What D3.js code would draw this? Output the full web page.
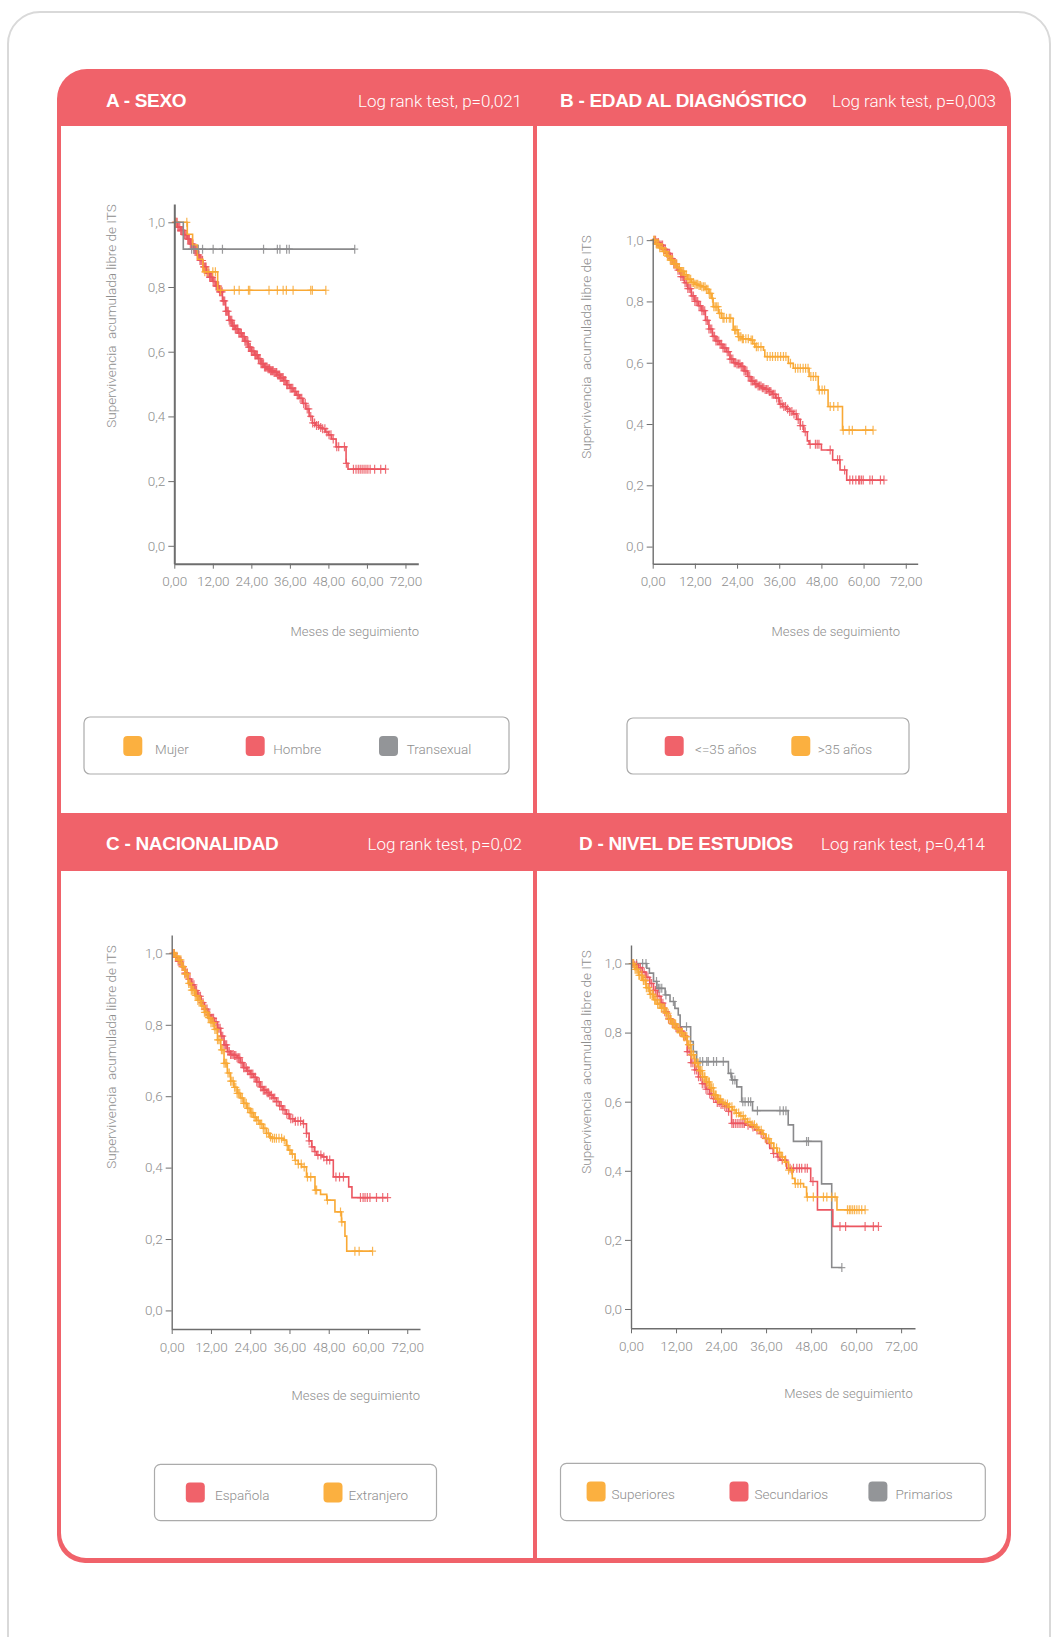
<!DOCTYPE html>
<html lang="es">
<head>
<meta charset="utf-8">
<script src="https://cdn.jsdelivr.net/npm/d3@7"></script>
<style>
  html, body { margin: 0; padding: 0; background: #ffffff; }
  svg { display: block; }
</style>
</head>
<body>
<script>
// ---------- Data: Kaplan-Meier curves [months, cumulative survival] ----------
const panelTitles = ["A - SEXO", "B - EDAD AL DIAGNÓSTICO", "C - NACIONALIDAD", "D - NIVEL DE ESTUDIOS"];
const panelTests = ["Log rank test, p=0,021", "Log rank test, p=0,003", "Log rank test, p=0,02", "Log rank test, p=0,414"];
const yTicks = [0, 0.2, 0.4, 0.6, 0.8, 1.0];
const xTicks = [0, 12, 24, 36, 48, 60, 72];
const yLabel = "Supervivencia  acumulada libre de ITS";
const xLabel = "Meses de seguimiento";

// A - Sexo
const sexoLabels = ["Mujer", "Hombre", "Transexual"];
const sexoMujer = [[0,1],[4.05,0.963],[5.7,0.93],[7.2,0.886],[8.9,0.847],[13.5,0.79],[47.2,0.79]];
const sexoMujerCens = [0.4,3.9,9.5,10.5,12.0,12.8,14.4,18.7,20.2,23.1,23.5,29.5,32.1,33.9,34.9,37.0,42.5,43.0,47.2];
const sexoHombre = [[0,1],[1,0.985],[2,0.975],[3,0.962],[4,0.948],[5,0.933],[6,0.916],[7,0.899],[8,0.882],[9,0.862],[10,0.843],[11,0.83],[12,0.817],[13,0.803],[14,0.785],[15,0.757],[16,0.725],[17,0.697],[18,0.68],[19,0.67],[20,0.657],[21,0.647],[22,0.632],[23,0.614],[24,0.601],[25,0.59],[26,0.579],[27,0.563],[28,0.553],[29,0.547],[30,0.541],[31,0.536],[32,0.528],[33,0.52],[34,0.511],[35,0.498],[36,0.487],[37,0.477],[38,0.466],[39,0.456],[40,0.44],[41,0.423],[42,0.4],[43,0.38],[44,0.372],[45,0.366],[46,0.362],[47,0.352],[48,0.343],[49,0.33],[50.4,0.306],[53.5,0.255],[54.1,0.237],[65.8,0.237]];
const sexoHombreCens = [0.3,0.6,0.9,1.1,1.4,1.7,2.0,2.2,2.5,2.8,3.1,3.3,3.6,3.9,4.2,4.4,4.7,5.0,5.3,5.5,5.8,6.1,6.4,6.6,6.9,7.2,7.5,7.7,8.0,8.3,8.6,8.8,9.1,9.4,9.7,9.9,10.2,10.5,10.8,11.0,11.3,11.6,11.9,12.1,12.4,12.7,13.0,13.2,13.5,13.8,14.1,14.3,14.6,14.9,15.2,15.4,15.7,16.0,16.3,16.5,16.8,17.1,17.4,17.6,17.9,18.2,18.5,18.7,19.0,19.3,19.6,19.8,20.1,20.4,20.7,20.9,21.2,21.5,21.8,22.0,22.3,22.6,22.9,23.1,23.4,23.7,24.0,24.2,24.5,24.8,25.1,25.3,25.6,25.9,26.2,26.4,26.7,27.0,27.3,27.5,27.8,28.1,28.4,28.6,28.9,29.2,29.5,29.7,30.0,30.3,30.6,30.8,31.1,31.4,31.7,31.9,32.2,32.5,32.8,33.0,33.3,33.6,33.9,34.1,34.4,34.7,35.0,35.3,35.7,36.1,36.5,36.9,37.4,37.8,38.3,38.7,39.2,39.7,40.3,40.8,41.4,41.9,42.5,43.1,43.7,44.3,44.9,45.6,46.2,46.9,47.5,48.2,48.8,49.5,50.6,51.2,53.0,53.6,55.8,56.6,57.3,57.9,58.5,59.1,59.7,60.3,61.0,62.4,64.3,65.8];
const sexoTrans = [[0,1],[2.8,0.917],[56.2,0.917]];
const sexoTransCens = [5.4,6.1,7.5,8.8,12.1,15.0,27.8,32.1,32.9,35.0,35.8,56.2];

// B - Edad al diagnóstico
const edadLabels = ["<=35 años", ">35 años"];
const edadJoven = [[0,1],[1,0.992],[2,0.984],[3,0.97],[4,0.957],[5,0.94],[6,0.922],[7,0.902],[8,0.881],[9,0.861],[10,0.842],[11,0.818],[12,0.8],[13,0.786],[14,0.77],[15,0.738],[16,0.71],[17,0.686],[18,0.671],[19,0.66],[20,0.648],[21,0.636],[22,0.612],[23,0.6],[24,0.596],[25,0.588],[26,0.573],[27,0.555],[28,0.54],[29,0.531],[30,0.524],[31,0.518],[32,0.513],[33,0.506],[34,0.497],[35,0.485],[36,0.465],[37,0.457],[38,0.449],[39,0.441],[40,0.433],[41,0.415],[42,0.395],[43,0.375],[44,0.345],[44.5,0.334],[48,0.315],[51.2,0.283],[53.3,0.25],[55.2,0.217],[65.8,0.217]];
const edadJovenCens = [0.4,0.8,1.2,1.6,2.0,2.4,2.8,3.2,3.6,4.0,4.4,4.8,5.2,5.6,6.0,6.4,6.8,7.2,7.6,8.0,8.4,8.8,9.2,9.6,10.0,10.4,10.8,11.2,11.6,12.0,12.4,12.8,13.2,13.6,14.0,14.4,14.8,15.2,15.6,16.0,16.4,16.8,17.2,17.6,18.0,18.4,18.8,19.2,19.6,20.0,20.4,20.8,21.2,21.6,22.0,22.4,22.8,23.2,23.6,24.0,24.4,24.8,25.2,25.6,26.0,26.4,26.8,27.2,27.6,28.0,28.4,28.8,29.2,29.6,30.0,30.4,30.8,31.2,31.6,32.0,32.4,32.8,33.2,33.6,34.0,34.4,34.8,35.3,35.8,36.3,36.8,37.3,37.8,38.4,39.0,39.6,40.2,40.8,41.4,42.0,42.7,43.4,44.8,46.3,46.8,47.3,50.5,52.6,53.2,54.6,56.1,56.9,57.8,58.6,58.9,59.4,59.9,61.8,62.5,64.8,65.8];
const edadMayor = [[0,1],[1,0.988],[2,0.975],[3,0.963],[4,0.948],[5,0.935],[6,0.922],[7,0.91],[8,0.898],[9,0.887],[10,0.872],[11,0.862],[12,0.856],[13,0.852],[14,0.848],[15,0.84],[16,0.826],[16.8,0.81],[17.2,0.783],[18.7,0.761],[19.6,0.745],[22.9,0.707],[24.3,0.685],[25.5,0.678],[27.7,0.674],[28.5,0.662],[29.1,0.652],[31.5,0.641],[31.9,0.62],[38.6,0.598],[40.0,0.582],[44.5,0.555],[47.1,0.511],[49.9,0.457],[54.0,0.38],[62.7,0.38]];
const edadMayorCens = [0.3,0.6,1.0,1.3,1.7,2.0,2.4,2.8,3.1,3.5,3.8,4.2,4.6,5.0,5.3,5.7,6.1,6.4,6.8,7.2,7.6,8.0,8.4,8.8,9.2,9.6,10.0,10.4,10.8,11.2,11.6,12.0,12.4,12.8,13.2,13.6,14.0,14.5,14.9,15.3,15.7,16.1,16.5,17.0,17.4,17.8,18.2,18.6,19.0,19.5,20.0,20.3,21.0,21.8,22.2,23.3,23.6,24.0,24.4,24.8,25.1,25.5,25.8,26.5,27.2,28.0,28.4,29.0,29.5,30.0,30.8,32.6,33.4,34.1,34.9,35.6,36.4,37.2,37.9,39.2,40.6,41.3,42.0,42.8,43.5,44.2,45.0,45.7,46.4,47.4,48.2,48.9,50.5,51.5,52.7,54.2,55.9,56.8,60.6,62.7];

// C - Nacionalidad
const nacLabels = ["Española", "Extranjero"];
const nacEspanola = [[0,1],[1,0.989],[2,0.978],[3,0.963],[4,0.945],[5,0.928],[6,0.912],[7,0.896],[8,0.88],[9,0.862],[10,0.844],[11,0.828],[12,0.818],[13,0.808],[14,0.79],[15,0.768],[16,0.744],[17,0.725],[18,0.717],[19,0.714],[20,0.708],[21,0.694],[22,0.68],[23,0.671],[24,0.662],[25,0.653],[26,0.64],[27,0.626],[28,0.617],[29,0.61],[30,0.603],[31,0.595],[32,0.585],[33,0.573],[34,0.562],[35,0.55],[36,0.537],[37.5,0.53],[40.2,0.523],[41.2,0.496],[42,0.475],[42.8,0.458],[43.6,0.445],[44.3,0.435],[46,0.43],[47.4,0.421],[49.4,0.374],[54.1,0.346],[55.1,0.316],[66.0,0.316]];
const nacEspanolaCens = [0.4,0.8,1.2,1.6,2.0,2.4,2.8,3.2,3.6,4.0,4.4,4.8,5.2,5.6,6.0,6.4,6.8,7.2,7.6,8.0,8.4,8.8,9.2,9.6,10.0,10.4,10.8,11.2,11.6,12.0,12.4,12.8,13.2,13.6,14.0,14.4,14.8,15.2,15.6,16.0,16.4,16.8,17.2,17.6,18.0,18.4,18.8,19.2,19.6,20.0,20.4,20.8,21.2,21.6,22.0,22.4,22.8,23.2,23.6,24.0,24.4,24.8,25.2,25.6,26.0,26.4,26.8,27.2,27.6,28.0,28.4,28.8,29.2,29.6,30.0,30.5,31.0,31.5,32.0,32.5,33.0,33.5,34.0,34.6,35.2,35.8,36.4,37.0,37.8,38.6,39.4,40.3,41.2,42.0,42.9,43.8,44.7,45.6,46.5,47.4,48.3,50.2,51.3,52.5,57.7,58.5,59.1,59.8,60.6,62.6,64.5,66.0];
const nacExtranjero = [[0,1],[1,0.992],[2,0.982],[3,0.963],[4,0.942],[5,0.916],[6,0.897],[7,0.882],[8,0.868],[9,0.853],[10,0.835],[11,0.82],[12,0.806],[13,0.787],[14,0.758],[15,0.73],[16,0.692],[17,0.665],[18,0.642],[19,0.625],[20,0.608],[21,0.595],[22,0.58],[23,0.566],[24,0.554],[25,0.541],[26,0.532],[27,0.522],[28,0.51],[29,0.496],[30,0.486],[30.5,0.482],[34.1,0.477],[35,0.462],[35.6,0.449],[36.5,0.438],[37.7,0.42],[38.7,0.41],[39.7,0.402],[41.2,0.374],[43.8,0.337],[45.5,0.325],[47.4,0.309],[49.9,0.276],[51.9,0.248],[52.96,0.208],[53.5,0.166],[61.4,0.166]];
const nacExtranjeroCens = [0.4,0.8,1.2,1.6,2.0,2.4,2.8,3.2,3.6,4.0,4.4,4.8,5.2,5.6,6.0,6.4,6.8,7.2,7.6,8.0,8.4,8.8,9.2,9.6,10.0,10.4,10.8,11.2,11.6,12.0,12.4,12.8,13.2,13.6,14.0,14.4,14.8,15.2,15.6,16.0,16.4,16.8,17.2,17.6,18.0,18.4,18.8,19.2,19.6,20.0,20.4,20.8,21.2,21.6,22.0,22.4,22.8,23.2,23.6,24.0,24.4,24.8,25.2,25.6,26.0,26.5,27.0,27.5,28.0,28.5,29.0,29.6,30.2,30.8,31.4,32.0,32.8,33.6,34.4,35.3,36.1,36.9,37.8,38.7,39.6,40.5,41.5,42.5,43.9,44.3,47.6,51.6,52.0,56.0,57.3,61.4];

// D - Nivel de estudios
const estLabels = ["Superiores", "Secundarios", "Primarios"];
const estSuperiores = [[0,1],[1,0.983],[2,0.966],[3,0.951],[4,0.93],[5,0.911],[6,0.895],[7,0.882],[8,0.871],[9,0.856],[10,0.838],[11,0.825],[12,0.811],[13,0.8],[14,0.788],[15,0.765],[16,0.736],[17,0.712],[18,0.69],[19,0.672],[20,0.657],[21,0.64],[22,0.619],[23,0.607],[24,0.598],[25,0.593],[26,0.585],[27,0.576],[28,0.567],[29,0.559],[30,0.55],[31,0.541],[32,0.533],[33,0.526],[34,0.517],[35,0.506],[36,0.493],[37,0.48],[38,0.466],[39,0.453],[40,0.44],[41,0.425],[42,0.402],[43,0.378],[43.7,0.363],[46,0.353],[46.8,0.324],[54.9,0.287],[62.4,0.287]];
const estSuperioresCens = [0.3,0.7,1.1,1.4,1.7,2.1,2.3,2.7,2.9,3.3,3.5,3.9,4.1,4.5,4.7,5.1,5.3,5.7,5.9,6.3,6.5,6.9,7.1,7.5,7.7,8.1,8.3,8.7,8.9,9.3,9.5,9.9,10.1,10.5,10.7,11.1,11.3,11.7,11.9,12.3,12.5,12.9,13.1,13.5,13.7,14.1,14.3,14.7,14.9,15.3,15.5,15.9,16.1,16.5,16.7,17.1,17.3,17.7,17.9,18.3,18.5,18.9,19.1,19.5,19.7,20.1,20.3,20.7,20.9,21.3,21.5,21.9,22.1,22.5,22.7,23.1,23.3,23.7,23.9,24.5,25.1,25.7,26.3,26.9,27.5,28.1,28.7,29.3,29.9,30.5,31.1,31.7,32.3,32.9,33.5,34.1,34.7,35.3,36.0,36.7,37.4,38.1,38.8,39.6,40.4,41.2,42.0,42.8,43.8,44.5,45.2,47.0,48.6,51.3,52.2,53.5,54.4,57.7,58.2,58.6,59.1,59.6,60.2,60.8,61.5,62.4];
const estSecundarios = [[0,1],[1,0.995],[2,0.988],[3,0.975],[4,0.96],[5,0.942],[6,0.922],[7,0.905],[8,0.885],[9,0.86],[10,0.84],[11,0.826],[12,0.814],[13,0.804],[14,0.79],[15,0.745],[16,0.713],[17,0.692],[18,0.672],[19,0.652],[20,0.636],[21,0.622],[22,0.609],[23,0.598],[24,0.592],[25,0.586],[26,0.572],[26.8,0.537],[30.4,0.532],[31.7,0.527],[33,0.518],[34.4,0.508],[35.3,0.494],[36.2,0.479],[37,0.465],[37.9,0.45],[39,0.44],[39.7,0.431],[41.5,0.407],[47.9,0.369],[49.7,0.287],[53.8,0.239],[65.96,0.239]];
const estSecundariosCens = [0.5,1.0,1.5,2.0,2.5,3.0,3.5,4.0,4.5,5.0,5.5,6.0,6.5,7.0,7.5,8.0,8.5,9.0,9.5,10.0,10.5,11.0,11.5,12.0,12.5,13.0,13.5,14.0,14.5,15.0,15.5,16.0,16.5,17.0,17.5,18.0,18.5,19.0,19.5,20.0,20.5,21.0,21.5,22.0,22.5,23.0,23.5,24.0,24.5,25.0,25.5,26.0,26.9,27.3,27.8,28.3,28.8,29.3,29.8,30.2,31.2,32.5,33.6,34.7,35.8,36.9,38.0,39.2,40.3,41.2,42.4,43.3,44.2,44.9,45.5,46.4,47.0,48.5,55.7,57.2,62.4,64.6,65.96];
const estPrimarios = [[0,1],[4.2,0.986],[4.9,0.972],[6.0,0.948],[6.9,0.928],[9.1,0.909],[10.4,0.89],[11.7,0.87],[12.6,0.851],[13.1,0.817],[15.9,0.774],[16.6,0.745],[17.5,0.716],[25.96,0.682],[26.8,0.663],[28.2,0.643],[29.5,0.6],[32.4,0.574],[41.9,0.533],[43.3,0.485],[50.8,0.362],[53.5,0.12],[56.2,0.12]];
const estPrimariosCens = [1.5,3.1,4.0,6.8,7.3,7.7,8.2,9.3,11.3,14.8,18.4,19.1,20.2,20.6,22.0,22.8,24.6,26.6,27.1,27.7,29.8,30.4,31.3,31.9,33.7,39.7,40.6,41.3,46.8,47.3,56.2];

// ---------- Styling ----------
const RED = "#f0626a";
const CURVE_RED = "#ec5660";
const ORANGE = "#fbb040";
const CURVE_ORANGE = "#f9a935";
const GREY = "#939598";
const CURVE_GREY = "#8a8a8c";
const TXT = "#8e8e8e";
const AXIS = "#6e6e6e";
const FONT = "Roboto, 'Liberation Sans', Arial, sans-serif";

const W = 1052, H = 1637;
const svg = d3.select("body").append("svg")
  .attr("width", W).attr("height", H)
  .attr("viewBox", `0 0 ${W} ${H}`);

// rectangle path with independent corner radii [tl, tr, br, bl]
function roundRect(x, y, w, h, r) {
  const [tl, tr, br, bl] = r;
  return `M${x + tl},${y}H${x + w - tr}` +
    (tr ? `A${tr},${tr} 0 0 1 ${x + w},${y + tr}` : "") +
    `V${y + h - br}` +
    (br ? `A${br},${br} 0 0 1 ${x + w - br},${y + h}` : "") +
    `H${x + bl}` +
    (bl ? `A${bl},${bl} 0 0 1 ${x},${y + h - bl}` : "") +
    `V${y + tl}` +
    (tl ? `A${tl},${tl} 0 0 1 ${x + tl},${y}` : "") + "Z";
}

// outer card
svg.append("rect")
  .attr("x", 8).attr("y", 12).attr("width", 1042).attr("height", 1700)
  .attr("rx", 32).attr("fill", "#fff")
  .attr("stroke", "#d9d9d9").attr("stroke-width", 2);

// red frame
svg.append("path").attr("d", roundRect(57, 69, 954, 1494, [30, 30, 28, 28])).attr("fill", RED);

// white panel interiors
const interiors = [
  [61, 126, 472, 687, [0, 0, 0, 0]],
  [537, 126, 470, 687, [0, 0, 0, 0]],
  [61, 871, 472, 687, [0, 0, 0, 25]],
  [537, 871, 470, 687, [0, 0, 25, 0]]
];
interiors.forEach(([x, y, w, h, r]) => svg.append("path").attr("d", roundRect(x, y, w, h, r)).attr("fill", "#fff"));

// header texts
const headers = [
  { tx: 106, px: 522, y: 107 },
  { tx: 560, px: 996, y: 107 },
  { tx: 106, px: 522, y: 850 },
  { tx: 579, px: 985, y: 850 }
];
headers.forEach((h, i) => {
  svg.append("text").attr("x", h.tx).attr("y", h.y)
    .attr("font-family", "'Liberation Sans', Arial, sans-serif")
    .attr("font-weight", 700).attr("font-size", 19)
    .attr("letter-spacing", -0.3)
    .attr("fill", "#fff").text(panelTitles[i]);
  svg.append("text").attr("x", h.px).attr("y", h.y)
    .attr("text-anchor", "end")
    .attr("font-family", FONT).attr("font-weight", 300).attr("font-size", 17)
    .attr("fill", "#fff").text(panelTests[i]);
});

// ---------- Kaplan-Meier panels ----------
function survAt(curve, t) {
  let s = curve[0][1];
  for (const [tt, ss] of curve) { if (tt <= t) s = ss; else break; }
  return s;
}

const panels = [
  { // A
    x0: 174.3, x1: 418.3, xMax: 76, yTop: 204, yBot: 563.7, yMin: -0.0553, yMax: 1.0566,
    axisW: 2, ylx: 111.7, yly: 316, xlx: 419, xly: 636,
    series: [
      { data: sexoHombre, cens: sexoHombreCens, color: CURVE_RED },
      { data: sexoMujer, cens: sexoMujerCens, color: CURVE_ORANGE },
      { data: sexoTrans, cens: sexoTransCens, color: CURVE_GREY }
    ],
    legend: { box: [84, 717, 425, 57], cy: 746, labels: sexoLabels, colors: [ORANGE, RED, GREY],
      sw: [123.3, 245.7, 379], lx: [155, 273.3, 406.7] }
  },
  { // B
    x0: 652.7, x1: 917.7, xMax: 75.4, yTop: 238, yBot: 563.7, yMin: -0.0558, yMax: 1.007,
    axisW: 1.4, ylx: 586.7, yly: 347, xlx: 900, xly: 636,
    series: [
      { data: edadJoven, cens: edadJovenCens, color: CURVE_RED },
      { data: edadMayor, cens: edadMayorCens, color: CURVE_ORANGE }
    ],
    legend: { box: [627, 718, 282, 56], cy: 746, labels: edadLabels, colors: [RED, ORANGE],
      sw: [664.7, 791.3], lx: [695, 817.7] }
  },
  { // C
    x0: 171.7, x1: 420, xMax: 75.9, yTop: 935, yBot: 1329, yMin: -0.052, yMax: 1.0515,
    axisW: 1.4, ylx: 111.7, yly: 1057, xlx: 420, xly: 1400,
    series: [
      { data: nacEspanola, cens: nacEspanolaCens, color: CURVE_RED },
      { data: nacExtranjero, cens: nacExtranjeroCens, color: CURVE_ORANGE }
    ],
    legend: { box: [154.5, 1464.3, 282, 56.4], cy: 1492.5, labels: nacLabels, colors: [RED, ORANGE],
      sw: [185.8, 323.5], lx: [215, 348.6] }
  },
  { // D
    x0: 631, x1: 915, xMax: 75.7, yTop: 945, yBot: 1328.3, yMin: -0.0559, yMax: 1.0535,
    axisW: 1.4, ylx: 586.7, yly: 1062, xlx: 912.7, xly: 1398,
    series: [
      { data: estPrimarios, cens: estPrimariosCens, color: CURVE_GREY },
      { data: estSecundarios, cens: estSecundariosCens, color: CURVE_RED },
      { data: estSuperiores, cens: estSuperioresCens, color: CURVE_ORANGE }
    ],
    legend: { box: [560.5, 1463.3, 424.8, 57.4], cy: 1491.5, labels: estLabels, colors: [ORANGE, RED, GREY],
      sw: [586.6, 729.5, 868.4], lx: [611.6, 754.6, 895.5] }
  }
];

const commaFmt = (d, n) => d3.format(`.${n}f`)(d).replace(".", ",");

panels.forEach(p => {
  const x = d3.scaleLinear().domain([0, p.xMax]).range([p.x0, p.x1]);
  const y = d3.scaleLinear().domain([p.yMin, p.yMax]).range([p.yBot, p.yTop]);
  const g = svg.append("g");

  // curves
  const line = d3.line().x(d => x(d[0])).y(d => y(d[1])).curve(d3.curveStepAfter);
  p.series.forEach(s => {
    const sg = g.append("g");
    sg.append("path").datum(s.data)
      .attr("fill", "none").attr("stroke", s.color)
      .attr("stroke-width", 1.6).attr("d", line);
    // censoring marks
    sg.selectAll("path.cens").data(s.cens).join("path")
      .attr("class", "cens")
      .attr("d", t => {
        const cx = x(t), cy = y(survAt(s.data, t));
        return `M${cx},${cy - 4.5}V${cy + 4.5}M${cx - 3.5},${cy}H${cx + 3.5}`;
      })
      .attr("stroke", s.color).attr("stroke-width", 1.2).attr("opacity", 0.85);
  });

  // axes
  const ya = g.append("g").attr("transform", `translate(${p.x0},0)`)
    .call(d3.axisLeft(y).tickValues(yTicks).tickFormat(d => commaFmt(d, 1))
      .tickSize(6).tickSizeOuter(0).tickPadding(3));
  const xa = g.append("g").attr("transform", `translate(0,${p.yBot})`)
    .call(d3.axisBottom(x).tickValues(xTicks).tickFormat(d => commaFmt(d, 2))
      .tickSize(5).tickSizeOuter(0).tickPadding(8));
  [ya, xa].forEach(a => {
    a.select(".domain").attr("stroke", AXIS).attr("stroke-width", p.axisW);
    a.selectAll(".tick line").attr("stroke", AXIS).attr("stroke-width", 1);
    a.selectAll(".tick text").attr("fill", TXT)
      .attr("font-family", FONT).attr("font-weight", 300).attr("font-size", 13.5);
  });

  // axis titles
  g.append("text")
    .attr("transform", `translate(${p.ylx},${p.yly}) rotate(-90)`)
    .attr("text-anchor", "middle").attr("dy", "0.35em")
    .attr("font-family", FONT).attr("font-weight", 300).attr("font-size", 13.5)
    .attr("fill", TXT).attr("xml:space", "preserve").text(yLabel);
  g.append("text")
    .attr("x", p.xlx).attr("y", p.xly).attr("text-anchor", "end")
    .attr("font-family", FONT).attr("font-weight", 300).attr("font-size", 13)
    .attr("fill", TXT).text(xLabel);

  // legend
  const L = p.legend;
  g.append("rect")
    .attr("x", L.box[0]).attr("y", L.box[1]).attr("width", L.box[2]).attr("height", L.box[3])
    .attr("rx", 6).attr("fill", "#fff").attr("stroke", "#ababab").attr("stroke-width", 1.2);
  L.labels.forEach((lab, i) => {
    g.append("rect")
      .attr("x", L.sw[i]).attr("y", L.cy - 10).attr("width", 19).attr("height", 20)
      .attr("rx", 4).attr("fill", L.colors[i]);
    g.append("text")
      .attr("x", L.lx[i]).attr("y", L.cy + 3).attr("dy", "0.35em")
      .attr("font-family", FONT).attr("font-weight", 300).attr("font-size", 13.5)
      .attr("fill", TXT).text(lab);
  });
});
</script>
</body>
</html>
